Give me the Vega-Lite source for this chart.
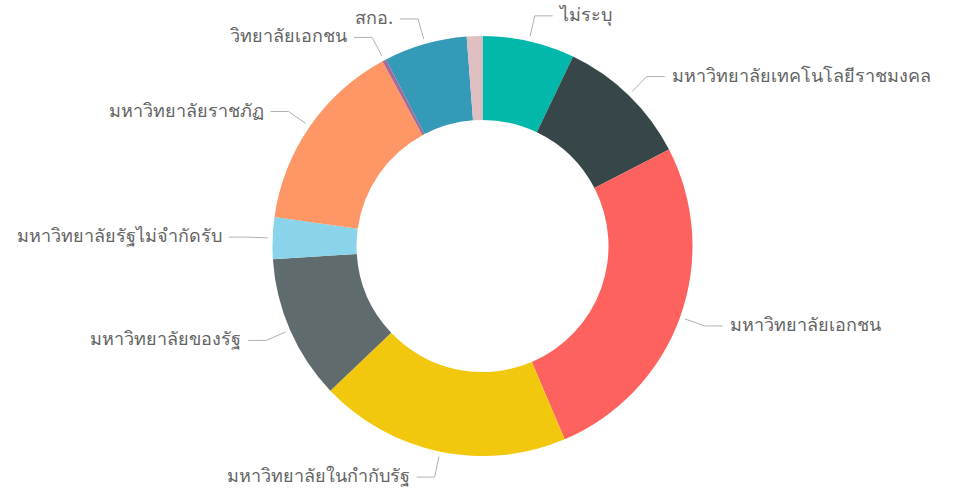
{
  "$schema": "https://vega.github.io/schema/vega-lite/v6.json",
  "width": 941,
  "height": 492,
  "autosize": "none",
  "padding": {"left": 12, "top": 0, "right": 0, "bottom": 0},
  "background": "white",
  "config": {"view": {"stroke": null}},
  "data": {
    "values": [
      {"order": 1, "category": "ไม่ระบุ", "value": 7.1},
      {"order": 2, "category": "มหาวิทยาลัยเทคโนโลยีราชมงคล", "value": 10.3},
      {"order": 3, "category": "มหาวิทยาลัยเอกชน", "value": 26.2},
      {"order": 4, "category": "มหาวิทยาลัยในกำกับรัฐ", "value": 19.3},
      {"order": 5, "category": "มหาวิทยาลัยของรัฐ", "value": 11.1},
      {"order": 6, "category": "มหาวิทยาลัยรัฐไม่จำกัดรับ", "value": 3.2},
      {"order": 7, "category": "มหาวิทยาลัยราชภัฏ", "value": 14.9},
      {"order": 8, "category": "วิทยาลัยเอกชน", "value": 0.3},
      {"order": 9, "category": "สกอ.", "value": 6.4},
      {"order": 10, "category": "อื่นๆ", "value": 1.2}
    ]
  },
  "transform": [
    {"window": [{"op": "sum", "field": "value", "as": "cum"}], "sort": [{"field": "order"}], "frame": [null, 0]},
    {"joinaggregate": [{"op": "sum", "field": "value", "as": "total"}]},
    {"calculate": "2*PI*(datum.cum - datum.value/2)/datum.total", "as": "mid"},
    {"calculate": "sin(datum.mid) >= 0 ? 1 : -1", "as": "side"},
    {"calculate": "215*sin(datum.mid)", "as": "sx"},
    {"calculate": "215*cos(datum.mid)", "as": "sy"},
    {"calculate": "236*sin(datum.mid)", "as": "ex"},
    {"calculate": "236*cos(datum.mid)", "as": "ey"},
    {"calculate": "datum.ex + datum.side*18", "as": "hx"},
    {"calculate": "datum.hx + datum.side*7", "as": "tx"}
  ],
  "layer": [
    {
      "mark": {"type": "arc", "outerRadius": 210, "innerRadius": 126},
      "encoding": {
        "theta": {"field": "value", "type": "quantitative", "stack": true},
        "order": {"field": "order", "type": "quantitative"},
        "color": {
          "field": "category",
          "type": "nominal",
          "legend": null,
          "scale": {
            "domain": ["ไม่ระบุ", "มหาวิทยาลัยเทคโนโลยีราชมงคล", "มหาวิทยาลัยเอกชน", "มหาวิทยาลัยในกำกับรัฐ", "มหาวิทยาลัยของรัฐ", "มหาวิทยาลัยรัฐไม่จำกัดรับ", "มหาวิทยาลัยราชภัฏ", "วิทยาลัยเอกชน", "สกอ.", "อื่นๆ"],
            "range": ["#01B8AA", "#374649", "#FD625E", "#F2C80F", "#5F6B6D", "#8AD4EB", "#FE9666", "#A66999", "#3599B8", "#DFBFBF"]
          }
        }
      }
    },
    {
      "transform": [{"filter": "datum.order < 10"}],
      "mark": {"type": "rule", "color": "#b0b0b0", "strokeWidth": 1},
      "encoding": {
        "x": {"field": "sx", "type": "quantitative", "scale": {"domain": [-470.5, 470.5]}, "axis": null},
        "y": {"field": "sy", "type": "quantitative", "scale": {"domain": [-246, 246]}, "axis": null},
        "x2": {"field": "ex"},
        "y2": {"field": "ey"}
      }
    },
    {
      "transform": [{"filter": "datum.order < 10"}],
      "mark": {"type": "rule", "color": "#b0b0b0", "strokeWidth": 1},
      "encoding": {
        "x": {"field": "ex", "type": "quantitative", "scale": {"domain": [-470.5, 470.5]}, "axis": null},
        "y": {"field": "ey", "type": "quantitative", "scale": {"domain": [-246, 246]}, "axis": null},
        "x2": {"field": "hx"}
      }
    },
    {
      "transform": [{"filter": "datum.order < 10 && datum.side > 0"}],
      "mark": {"type": "text", "align": "left", "baseline": "middle", "font": "Noto Sans", "fontSize": 18, "color": "#636363"},
      "encoding": {
        "x": {"field": "tx", "type": "quantitative", "scale": {"domain": [-470.5, 470.5]}, "axis": null},
        "y": {"field": "ey", "type": "quantitative", "scale": {"domain": [-246, 246]}, "axis": null},
        "text": {"field": "category"}
      }
    },
    {
      "transform": [{"filter": "datum.order < 10 && datum.side < 0"}],
      "mark": {"type": "text", "align": "right", "baseline": "middle", "font": "Noto Sans", "fontSize": 18, "color": "#636363"},
      "encoding": {
        "x": {"field": "tx", "type": "quantitative", "scale": {"domain": [-470.5, 470.5]}, "axis": null},
        "y": {"field": "ey", "type": "quantitative", "scale": {"domain": [-246, 246]}, "axis": null},
        "text": {"field": "category"}
      }
    }
  ]
}
